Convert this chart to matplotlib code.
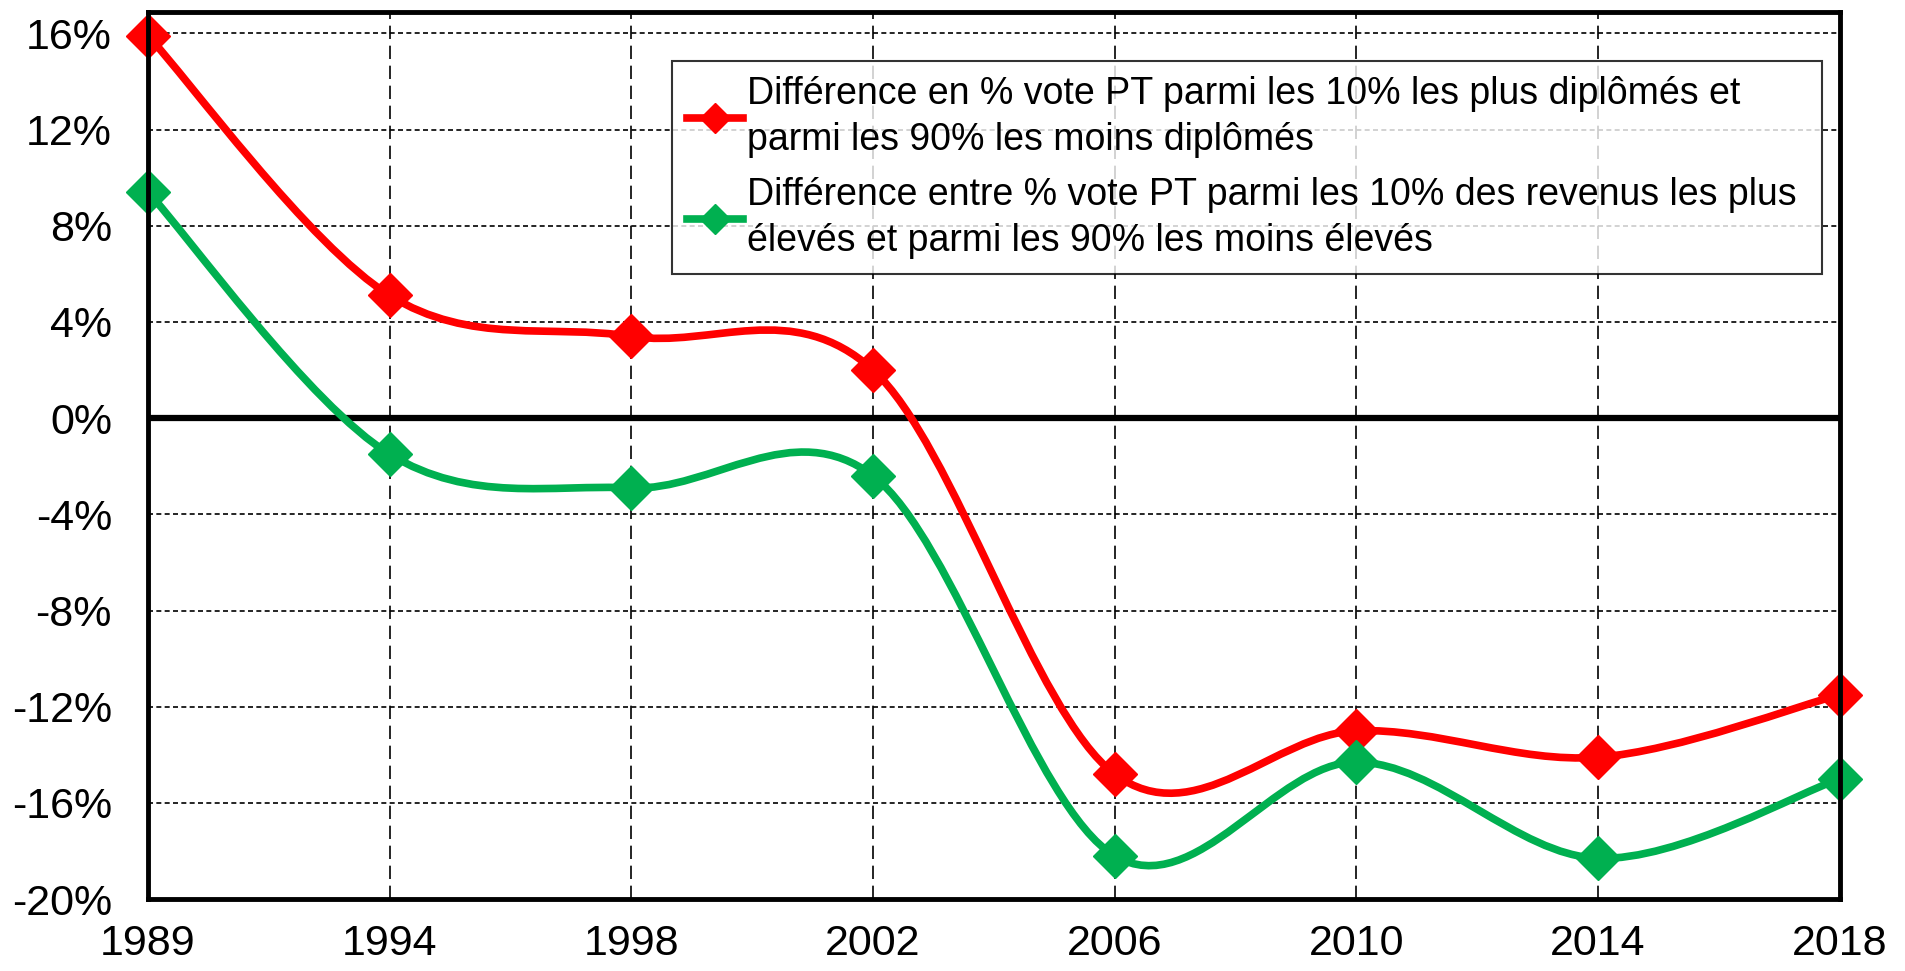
import numpy as np
import matplotlib
matplotlib.use("Agg")
import matplotlib.pyplot as plt
from matplotlib.path import Path
from matplotlib.patches import PathPatch
from matplotlib.lines import Line2D
from matplotlib.ticker import FuncFormatter

plt.rcParams['font.family'] = ['Liberation Sans', 'DejaVu Sans']

# data
years = ['1989', '1994', '1998', '2002', '2006', '2010', '2014', '2018']
diplomes = [15.9, 5.1, 3.4, 2.0, -14.8, -13.0, -14.1, -11.5]
revenus = [9.4, -1.5, -2.9, -2.4, -18.2, -14.3, -18.3, -15.0]
labels = ["Différence en % vote PT parmi les 10% les plus diplômés et\nparmi les 90% les moins diplômés",
          "Différence entre % vote PT parmi les 10% des revenus les plus\nélevés et parmi les 90% les moins élevés"]
colors = ['#ff0000', '#00b050']


def smooth_path(x, y):
    # excel-like smoothed line (catmull-rom as cubic bezier)
    p = np.column_stack([x, y]).astype(float)
    ext = np.vstack([p[0], p, p[-1]])
    verts = [p[0]]
    codes = [Path.MOVETO]
    for i in range(len(p) - 1):
        p0, p1, p2, p3 = ext[i], ext[i + 1], ext[i + 2], ext[i + 3]
        verts += [p1 + (p2 - p0) / 6, p2 - (p3 - p1) / 6, p2]
        codes += [Path.CURVE4] * 3
    return Path(verts, codes)


fig = plt.figure(figsize=(19.05, 9.71), dpi=100)
ax = fig.add_axes([0.0777, 0.074, 0.888, 0.914])

x = np.arange(len(years))
for vals, c, lab in zip([diplomes, revenus], colors, labels):
    ax.add_patch(PathPatch(smooth_path(x, vals), facecolor='none', edgecolor=c, lw=5.5, zorder=3,
                           clip_on=False))
    ax.plot(x, vals, ls='none', marker='D', ms=22, color=c, zorder=4, clip_on=False)

ax.axhline(0, color='black', lw=4.5, zorder=2)
ax.set_xlim(0, len(years) - 1)
ax.set_ylim(-20, 16.9)
ax.set_yticks(np.arange(-20, 17, 4))
ax.yaxis.set_major_formatter(FuncFormatter(lambda v, p: f"{v:.0f}%"))
ax.set_xticks(x)
ax.set_xticklabels(years)
ax.tick_params(axis='both', labelsize=31, length=0)
ax.tick_params(axis='y', pad=26)
ax.tick_params(axis='x', pad=18)

ax.grid(axis='y', color='black', ls=(0, (3, 2)), lw=1.2, zorder=1)
ax.grid(axis='x', color='black', ls=(0, (8, 4)), lw=1.2, zorder=1)
for s in ax.spines.values():
    s.set_linewidth(3.5)
    s.set_zorder(5)

handles = [Line2D([], [], color=c, lw=5.5, marker='D', ms=15) for c in colors]
leg = ax.legend(handles, [l.replace('\n', ' \n') + ' ' for l in labels],
                loc='upper left', bbox_to_anchor=(0.3095, 0.944),
                fontsize=27, handlelength=1.5, handletextpad=0.1, labelspacing=0.5,
                frameon=True, fancybox=False, borderpad=0.4, borderaxespad=0)
leg.get_frame().set_edgecolor('black')
leg.get_frame().set_linewidth(1.5)
for t in leg.get_texts():
    t.set_linespacing(1.35)

fig.savefig('out.png', dpi=100)
